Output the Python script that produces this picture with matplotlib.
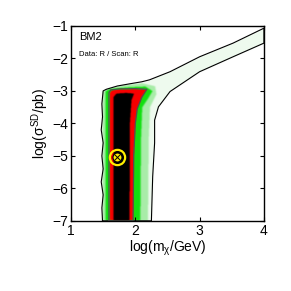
import numpy as np
import matplotlib
matplotlib.use("Agg")
import matplotlib.pyplot as plt
from matplotlib.path import Path
from matplotlib.colors import LinearSegmentedColormap

plt.rcParams['font.family'] = ['Liberation Sans', 'DejaVu Sans']
plt.rcParams['mathtext.fontset'] = 'custom'
plt.rcParams['mathtext.rm'] = 'Liberation Sans'
plt.rcParams['mathtext.it'] = 'Liberation Sans'

# ---- data (data coordinates) ----
# outer (black) contour
outer_x = [1.49, 1.48, 1.50, 1.47, 1.50, 1.48, 1.50, 1.47, 1.49, 1.48, 1.50, 1.55, 1.72, 1.92, 2.10, 2.22,
           2.54, 3.00, 3.52, 4.00, 4.00, 3.52, 3.00, 2.54, 2.36, 2.30, 2.30, 2.27, 2.25]
outer_y = [-7.0, -6.6, -6.2, -5.8, -5.4, -5.0, -4.6, -4.2, -3.8, -3.4, -3.0, -2.95, -2.85, -2.78, -2.72, -2.66,
           -2.41, -1.95, -1.53, -1.07, -1.53, -1.95, -2.41, -3.02, -3.49, -3.90, -4.60, -5.64, -7.0]
# light-green zone around the vertical band
g2_x = [1.48, 1.48, 1.55, 1.80, 2.10, 2.30, 2.32, 2.22, 2.20, 2.19]
g2_y = [-7.0, -3.0, -2.93, -2.82, -2.76, -2.85, -3.10, -3.50, -4.50, -7.0]
# bright-green zone
g1_x = [1.53, 1.53, 1.60, 1.90, 2.15, 2.26, 2.20, 2.10, 2.08, 2.07]
g1_y = [-7.0, -3.0, -2.93, -2.88, -2.86, -3.00, -3.20, -3.50, -4.50, -7.0]
# inner (grey) contour
inner_x = [1.59, 1.59, 1.62, 1.75, 2.00, 2.18, 2.10, 2.03, 2.00, 1.975, 1.965]
inner_y = [-7.0, -3.05, -2.97, -2.94, -2.93, -2.95, -3.20, -3.55, -4.00, -5.00, -7.0]
# black core
core_x = [1.655, 1.655, 1.70, 1.85, 1.97, 1.93, 1.905, 1.90]
core_y = [-7.0, -3.18, -3.08, -3.06, -3.08, -3.28, -4.00, -7.0]
# best-fit point
best_x = [1.715]
best_y = [-5.03]

x_ticks = [1, 2, 3, 4]
y_ticks = [-7, -6, -5, -4, -3, -2, -1]

# ---- build a map from the regions ----
nx, ny = 600, 600
xs = np.linspace(1, 4, nx)
ys = np.linspace(-7, -1, ny)
X, Y = np.meshgrid(xs, ys)
pts = np.column_stack([X.ravel(), Y.ravel()])

def mask(px, py):
    p = Path(np.column_stack([px, py]))
    return p.contains_points(pts).reshape(X.shape).astype(float)

field = (0.08 * mask(outer_x, outer_y) + 0.22 * mask(g2_x, g2_y) + 0.20 * mask(g1_x, g1_y)
         + 0.15 * mask(inner_x, inner_y) + 0.35 * mask(core_x, core_y))

def blur(a, n, axis):
    k = np.ones(n) / n
    for _ in range(3):
        a = np.apply_along_axis(lambda v: np.convolve(np.pad(v, n, mode='edge'), k, mode='same')[n:-n], axis, a)
    return a

field = blur(field, 4, 1)
field = blur(field, 3, 0)

cmap = LinearSegmentedColormap.from_list("lik", [
    (0.0, "#ffffff"), (0.08, "#eefaee"), (0.30, "#a8eca8"), (0.50, "#10e010"),
    (0.58, "#30d000"), (0.64, "#ff0000"), (0.76, "#b00000"), (0.88, "#200000"), (1.0, "#000000")])

fig = plt.figure(figsize=(2.91, 2.91), dpi=100)
ax = fig.add_axes([0.244, 0.241, 0.663, 0.670])
ax.imshow(field, origin="lower", extent=[1, 4, -7, -1], cmap=cmap, vmin=0, vmax=1,
          aspect="auto", interpolation="bilinear")
ax.plot(outer_x + [outer_x[0]], outer_y + [outer_y[0]], color="black", lw=0.8)
ax.plot(inner_x + [inner_x[0]], inner_y + [inner_y[0]], color="#505050", lw=0.9)

ax.plot(best_x, best_y, "o", ms=11, mfc="none", mec="#ffee00", mew=1.6)
ax.plot(best_x, best_y, "o", ms=6.5, mfc="#ffee00", mec="black", mew=0.8)
ax.plot(best_x, best_y, "x", ms=5, mec="black", mew=0.7)

ax.set_xlim(1, 4)
ax.set_ylim(-7, -1)
ax.set_xticks(x_ticks)
ax.set_yticks(y_ticks)
ax.set_xticklabels([str(t) for t in x_ticks])
ax.set_yticklabels(["\u2212%d" % abs(t) for t in y_ticks])
ax.tick_params(direction="in", top=True, right=True, length=3, width=0.8, labelsize=10, pad=2)
for s in ax.spines.values():
    s.set_linewidth(1.0)

ax.set_xlabel(r"log(m$_\chi$/GeV)", fontsize=10, labelpad=1)
ax.set_ylabel(r"log($\sigma^{\mathrm{SD}}$/pb)", fontsize=10, labelpad=1)
ax.text(1.13, -1.35, "BM2", fontsize=8, ha="left", va="center")
ax.text(1.13, -1.88, "Data: R / Scan: R", fontsize=5.5, ha="left", va="center")

fig.savefig("out.png", dpi=100)
